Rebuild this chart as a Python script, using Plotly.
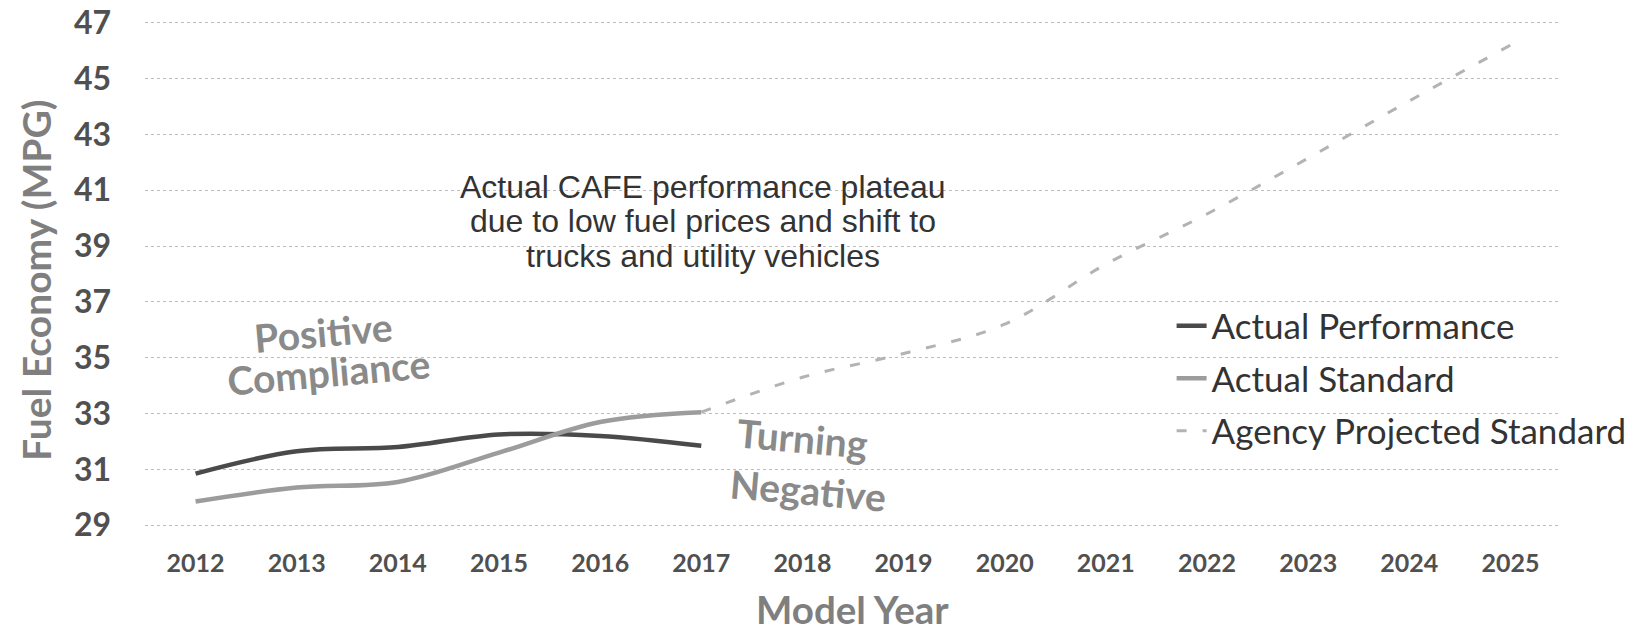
import plotly.graph_objects as go

# ---- data ----
years = ["2012", "2013", "2014", "2015", "2016", "2017", "2018",
         "2019", "2020", "2021", "2022", "2023", "2024", "2025"]
perf_years = ["2012", "2013", "2014", "2015", "2016", "2017"]
actual_performance = [30.85, 31.65, 31.8, 32.25, 32.2, 31.85]
std_years = ["2012", "2013", "2014", "2015", "2016", "2017"]
actual_standard = [29.85, 30.35, 30.55, 31.6, 32.7, 33.05]
proj_years = ["2017", "2018", "2019", "2020", "2021", "2022", "2023", "2024", "2025"]
projected_standard = [33.05, 34.3, 35.15, 36.2, 38.35, 40.15, 42.15, 44.2, 46.2]
y_ticks = [29, 31, 33, 35, 37, 39, 41, 43, 45, 47]

SANS = "Lato, 'Open Sans', sans-serif"
ARIAL = "'Liberation Sans', Arial, sans-serif"

# The page body adds an 8px margin, so the figure is drawn 8px smaller
# and its plot area is positioned accordingly.
OFF = 8
W, H = 1635 - OFF, 631 - OFF
L, R, T, B = 145 - OFF, 74, 20 - OFF, 103
PW, PH = W - L - R, H - T - B


def px(xpage):
    return (xpage - OFF - L) / PW


def py(ypage):
    return (H - B - (ypage - OFF)) / PH


fig = go.Figure()
fig.add_trace(go.Scatter(
    x=perf_years, y=actual_performance, name="Actual Performance",
    mode="lines", line=dict(color="#4a4a4a", width=4.5, shape="spline"),
    legendgroup="a"))
fig.add_trace(go.Scatter(
    x=std_years, y=actual_standard, name="Actual Standard",
    mode="lines", line=dict(color="#9c9c9c", width=4.5, shape="spline"),
    legendgroup="b"))
fig.add_trace(go.Scatter(
    x=proj_years, y=projected_standard, name="Agency Projected Standard",
    mode="lines", line=dict(color="#b3b3b3", width=3, shape="spline", dash="10px,16px"),
    legendgroup="c"))

fig.update_layout(
    width=W, height=H,
    margin=dict(l=L, r=R, t=T, b=B, autoexpand=False),
    paper_bgcolor="white", plot_bgcolor="white",
    font=dict(family=SANS, color="#404040"),
    showlegend=True,
    legend=dict(x=0.725, y=py(378.5), xanchor="left", yanchor="middle",
                font=dict(family=SANS, size=35, color="#333333"),
                bgcolor="rgba(0,0,0,0)", tracegroupgap=4,
                traceorder="grouped", itemwidth=30),
    xaxis=dict(type="category", categoryorder="array", categoryarray=years,
               range=[-0.5, 13.5], showgrid=False, zeroline=False, showline=False,
               automargin=False, ticks="",
               tickfont=dict(family=SANS, size=25, color="#505050", weight="bold"),
               ticklabelstandoff=18),
    yaxis=dict(range=[28.9, 47.1], tickvals=y_ticks, showgrid=True,
               gridcolor="#bdbdbd", griddash="dot", gridwidth=1,
               zeroline=False, showline=False, automargin=False, ticks="",
               tickfont=dict(family=SANS, size=32, color="#505050", weight="bold"),
               ticklabelstandoff=33, ticklabeloverflow="allow"),
)

# axis titles
fig.add_annotation(text="Model Year", xref="paper", yref="paper",
                   x=px(852), y=py(609), xanchor="center", yanchor="middle",
                   showarrow=False,
                   font=dict(family=SANS, size=38.5, color="#7f7f7f", weight="bold"))
fig.add_annotation(text="Fuel Economy (MPG)", xref="paper", yref="paper",
                   x=px(36), y=py(281), xanchor="center", yanchor="middle",
                   showarrow=False, textangle=-90,
                   font=dict(family=SANS, size=39, color="#7f7f7f", weight="bold"))

note_lines = ["Actual CAFE performance plateau",
              "due to low fuel prices and shift to",
              "trucks and utility vehicles"]
note_y = [187.5, 221, 256.5]
for txt, yy in zip(note_lines, note_y):
    fig.add_annotation(text=txt, xref="paper", yref="paper", x=px(703), y=py(yy),
                       xanchor="center", yanchor="middle", showarrow=False,
                       font=dict(family=ARIAL, size=32, color="#333333"))

label_words = [("Positive", 323, 332, -5), ("Compliance", 328, 372, -5),
               ("Turning", 802, 438, 5), ("Negative", 808, 490, 5)]
for txt, xx, yy, ang in label_words:
    fig.add_annotation(text=txt, xref="paper", yref="paper", x=px(xx), y=py(yy),
                       xanchor="center", yanchor="middle", showarrow=False, textangle=ang,
                       font=dict(family=SANS, size=39, color="#8a8a8a", weight="bold"))

fig.write_html("out.html")
